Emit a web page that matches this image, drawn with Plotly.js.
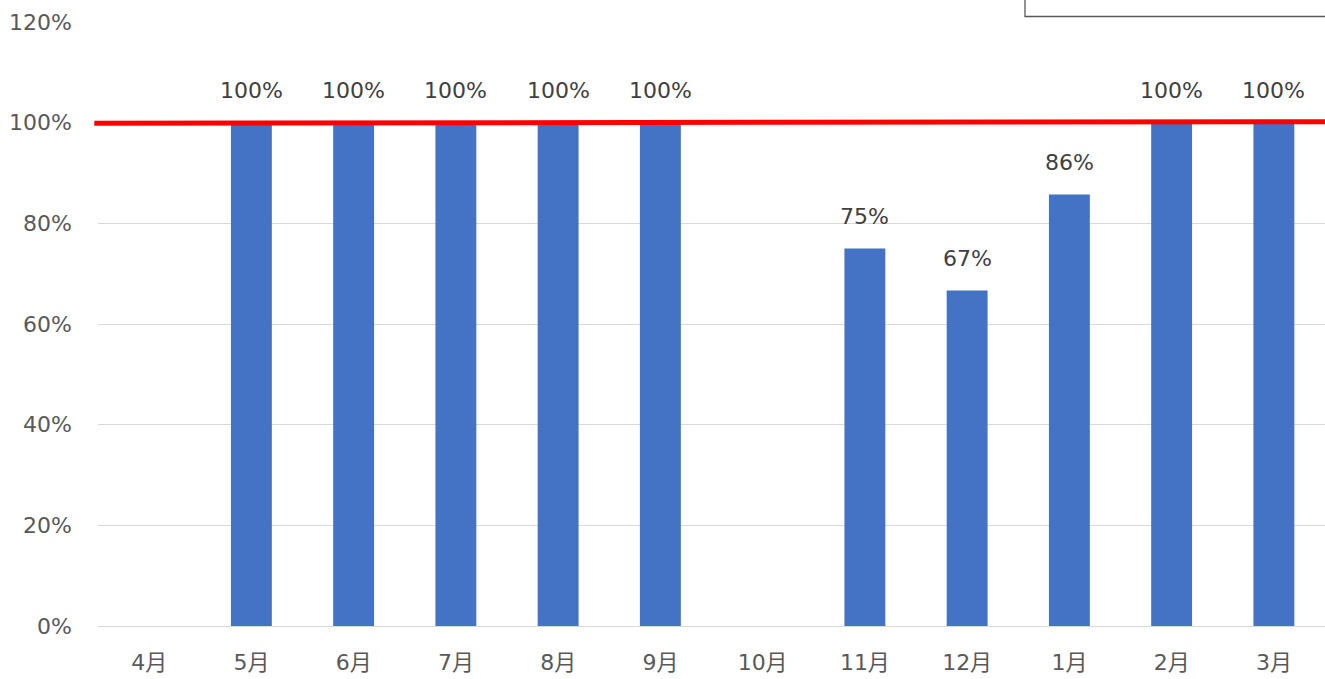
<!DOCTYPE html>
<html>
<head>
<meta charset="utf-8">
<script src="https://cdn.plot.ly/plotly-3.0.1.min.js"></script>
<style>html,body{margin:0;padding:0;background:#fff;}#chart{width:1325px;height:679px;}</style>
</head>
<body>
<div id="chart"></div>
<script>
const months = ['4月','5月','6月','7月','8月','9月','10月','11月','12月','1月','2月','3月'];
const rates = [null, 1, 1, 1, 1, 1, null, 0.75, 0.6667, 0.8571, 1, 1];
const targetRate = [0.999, 1.002];
const yTickVals = [0, 0.2, 0.4, 0.6, 0.8, 1.0, 1.2];
const yTickText = ['0%','20%','40%','60%','80%','100%','120%'];

const FONT = '"DejaVu Sans", Verdana, "Noto Sans CJK JP", sans-serif';

const bars = {
  type: 'bar',
  x: months,
  y: rates,
  marker: {color: '#4472c4'},
  hoverinfo: 'x+y',
  showlegend: false
};

const annotations = [];
months.forEach((m, i) => {
  if (rates[i] !== null && rates[i] !== undefined) {
    annotations.push({
      x: m, y: rates[i], xref: 'x', yref: 'y',
      text: Math.round(rates[i] * 100) + '%',
      showarrow: false, yshift: 32,
      font: {family: FONT, size: 22, color: '#404040'}
    });
  }
});

const layout = {
  width: 1325, height: 679,
  margin: {l: 98, r: 0, t: 22, b: 53},
  paper_bgcolor: '#ffffff', plot_bgcolor: '#ffffff',
  bargap: 0.6,
  showlegend: false,
  xaxis: {
    type: 'category',
    tickfont: {family: FONT, size: 22, color: '#595959'},
    showgrid: false, showline: false, ticks: '',
    ticklabelstandoff: 21
  },
  yaxis: {
    range: [0, 1.2],
    tickvals: yTickVals, ticktext: yTickText,
    tickfont: {family: FONT, size: 22, color: '#595959'},
    showgrid: true, gridcolor: '#d9d9d9', gridwidth: 1,
    zeroline: true, zerolinecolor: '#d9d9d9', zerolinewidth: 1,
    showline: false, ticks: '',
    ticklabelstandoff: 25
  },
  annotations: annotations,
  shapes: [
    {type: 'line', xref: 'paper', yref: 'y', x0: -0.003, x1: 1.0,
     y0: targetRate[0], y1: targetRate[1],
     line: {color: '#ff0000', width: 5}, layer: 'above'},
    {type: 'rect', xref: 'paper', yref: 'paper', x0: 0.7555, x1: 1.01, y0: 1.0091, y1: 1.1,
     line: {color: '#595959', width: 1.3}, fillcolor: 'rgba(0,0,0,0)'}
  ]
};

Plotly.newPlot('chart', [bars], layout, {displayModeBar: false, staticPlot: true});
</script>
</body>
</html>
